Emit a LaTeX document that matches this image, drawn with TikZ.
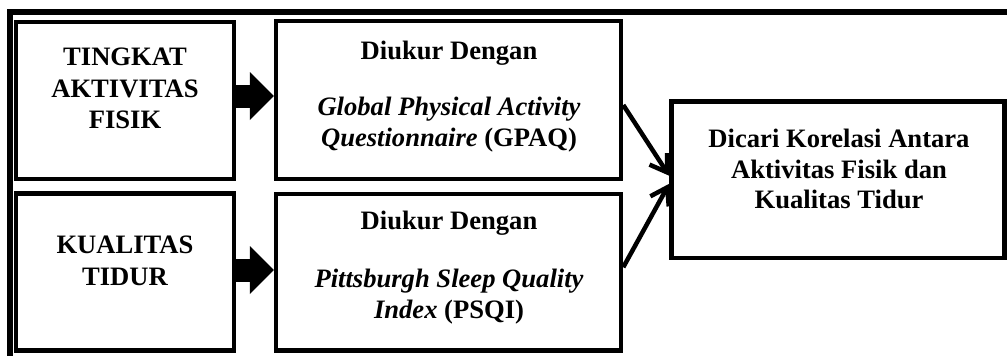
\documentclass[tikz,border=0pt]{standalone}
\usepackage{fontspec}
\setmainfont{Liberation Serif}
\usetikzlibrary{arrows.meta,calc}
\begin{document}
\begin{tikzpicture}[x=1pt,y=-1pt,
  box/.style={draw, rectangle, line width=4.5pt, inner sep=0pt},
  txt/.style={anchor=base, inner sep=0pt, font=\fontsize{26.6}{31}\selectfont\bfseries},
  blockarrow/.style={line width=23pt, shorten <=-3pt, -{Triangle[length=24pt,width=48pt,line width=0pt]}},
  ptr/.style={line width=4.5pt, -{Straight Barb[length=16pt,width=21pt]}},
  frame/.style={line width=6pt, line join=miter}]
\useasboundingbox (0,0) rectangle (1007,356);
% outer frame (partly visible)
\draw[frame] (10,362) -- (10,12) -- (1012,12);
% boxes
\node[box, minimum width=218pt, minimum height=157pt] (b1) at (125,100.5) {};
\node[box, minimum width=218pt, minimum height=157pt] (b2) at (125,272) {};
\node[box, minimum width=345pt, minimum height=158pt] (m1) at (448.5,100) {};
\node[box, minimum width=345pt, minimum height=156.5pt] (m2) at (448.5,272.25) {};
\node[box, minimum width=333pt, minimum height=156.5pt] (r) at (838,179.75) {};
% texts
\node[txt] (t1a) at (125,65) {TINGKAT};
\node[txt] (t1b) at (125,97) {AKTIVITAS};
\node[txt] (t1c) at (125,128) {FISIK};
\node[txt] (t2a) at (125,253) {KUALITAS};
\node[txt] (t2b) at (125,285) {TIDUR};
\node[txt] (m1a) at (449,59) {Diukur Dengan};
\node[txt] (m1b) at (449,115.5) {\itshape Global Physical Activity};
\node[txt] (m1c) at (449,146.5) {\itshape Questionnaire\/ \upshape(GPAQ)};
\node[txt] (m2a) at (449,229) {Diukur Dengan};
\node[txt] (m2b) at (449,287) {\itshape Pittsburgh Sleep Quality};
\node[txt] (m2c) at (449,318) {\itshape Index\/ \upshape(PSQI)};
\node[txt] (ra) at (839,147) {Dicari Korelasi Antara};
\node[txt] (rb) at (839,178) {Aktivitas Fisik dan};
\node[txt] (rc) at (839,208.5) {Kualitas Tidur};
% connectors
\coordinate (y1) at (0,96);
\coordinate (y2) at (0,270);
\draw[blockarrow] (b1.east |- y1) -- (m1.west |- y1);
\draw[blockarrow] (b2.east |- y2) -- (m2.west |- y2);
\draw[ptr] ($(m1.east)+(0,5)$) -- ($(r.west)+(0,-4)$);
\draw[ptr] ($(m2.east)+(0,-5)$) -- ($(r.west)+(0,4)$);
\end{tikzpicture}
\end{document}
